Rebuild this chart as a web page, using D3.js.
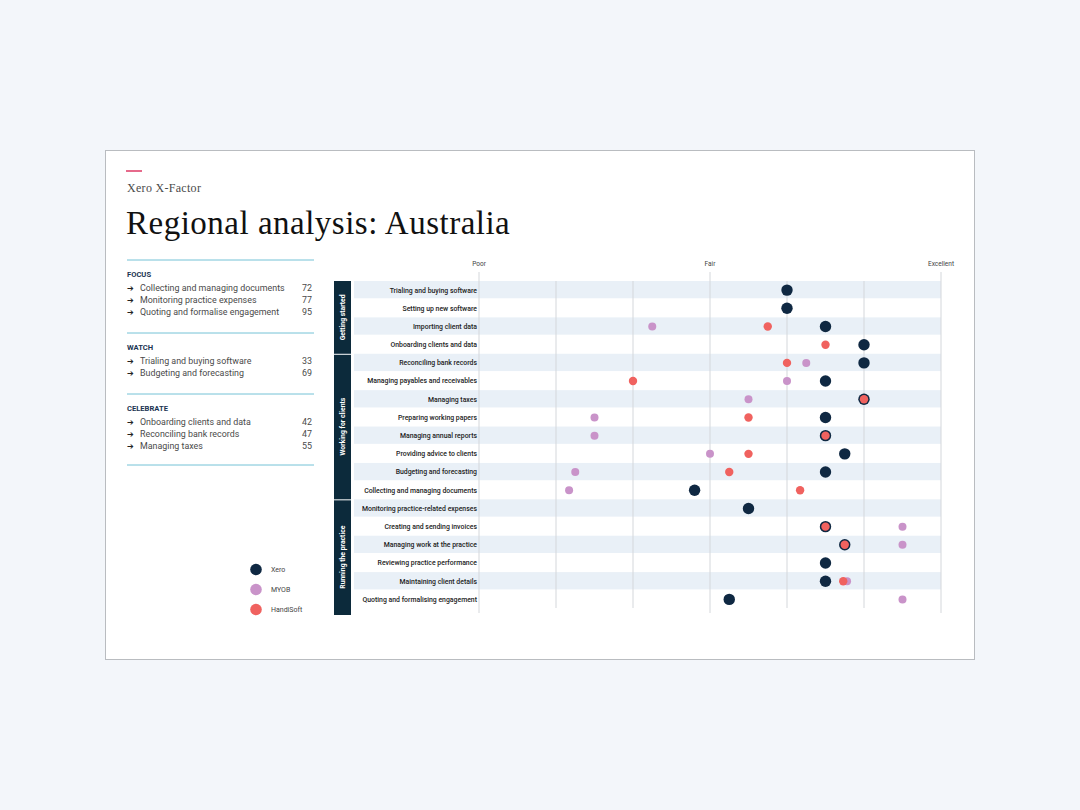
<!DOCTYPE html>
<html>
<head>
<meta charset="utf-8">
<script src="https://cdn.jsdelivr.net/npm/d3@7"></script>
<style>
  html, body { margin: 0; padding: 0; background: #f3f6fa; }
  svg { display: block; }
</style>
</head>
<body>
<svg id="chart" width="1080" height="810"></svg>
<script>
// tasks, top to bottom
const tasks = [
  'Trialing and buying software',
  'Setting up new software',
  'Importing client data',
  'Onboarding clients and data',
  'Reconciling bank records',
  'Managing payables and receivables',
  'Managing taxes',
  'Preparing working papers',
  'Managing annual reports',
  'Providing advice to clients',
  'Budgeting and forecasting',
  'Collecting and managing documents',
  'Monitoring practice-related expenses',
  'Creating and sending invoices',
  'Managing work at the practice',
  'Reviewing practice performance',
  'Maintaining client details',
  'Quoting and formalising engagement'
]

const groups = [
  { name: 'Getting started', from: 0, to: 3 },
  { name: 'Working for clients', from: 4, to: 11 },
  { name: 'Running the practice', from: 12, to: 17 }
]

// ratings on a 0 (Poor) .. 6 (Excellent) scale, null = no dot
const xero = [4, 4, 4.5, 5, 5, 4.5, 5, 4.5, 4.5, 4.75, 4.5, 2.8, 3.5, 4.5, 4.75, 4.5, 4.5, 3.25]
const myob = [null, null, 2.25, null, 4.25, 4, 3.5, 1.5, 1.5, 3, 1.25, 1.17, null, 5.5, 5.5, null, 4.78, 5.5]
const handisoft = [null, null, 3.75, 4.5, 4, 2, 5, 3.5, 4.5, 3.5, 3.25, 4.17, null, 4.5, 4.75, null, 4.73, null]

const gridValues = [0, 1, 2, 3, 4, 5, 6]
const tickValues = [0, 3, 6]
const tickLabels = ['Poor', 'Fair', 'Excellent']

const series = [
  { name: 'Xero', values: xero, color: '#0f2842', r: 5.7 },
  { name: 'MYOB', values: myob, color: '#c993c9', r: 4 },
  { name: 'HandiSoft', values: handisoft, color: '#f0625f', r: 4.2 }
]

// left panel lists
const focusItems = ['Collecting and managing documents', 'Monitoring practice expenses', 'Quoting and formalise engagement']
const focusScores = [72, 77, 95]
const watchItems = ['Trialing and buying software', 'Budgeting and forecasting']
const watchScores = [33, 69]
const celebrateItems = ['Onboarding clients and data', 'Reconciling bank records', 'Managing taxes']
const celebrateScores = [42, 47, 55]

const sans = 'Roboto, "Noto Sans", sans-serif'
const serif = '"Liberation Serif", "DejaVu Serif", serif'

const svg = d3.select('#chart')

// card
svg.append('rect')
  .attr('x', 105.5).attr('y', 150.5)
  .attr('width', 869).attr('height', 509)
  .attr('fill', '#fff')
  .attr('stroke', '#b9bcc0')

// header
svg.append('line')
  .attr('x1', 126).attr('x2', 142)
  .attr('y1', 171).attr('y2', 171)
  .attr('stroke', '#e0456e').attr('stroke-width', 1.6)

svg.append('text')
  .attr('x', 127).attr('y', 192)
  .attr('font-family', serif).attr('font-size', 12)
  .attr('fill', '#4a4a4a')
  .attr('letter-spacing', 0.3)
  .text('Xero X-Factor')

svg.append('text')
  .attr('x', 126).attr('y', 234)
  .attr('font-family', serif).attr('font-size', 33)
  .attr('fill', '#111')
  .attr('letter-spacing', 0.5)
  .text('Regional analysis: Australia')

// left panel
const lists = [
  { head: 'FOCUS', items: focusItems, scores: focusScores, top: 260 },
  { head: 'WATCH', items: watchItems, scores: watchScores, top: 333 },
  { head: 'CELEBRATE', items: celebrateItems, scores: celebrateScores, top: 394 }
]

const rules = [260, 333, 394, 465]
svg.selectAll('line.rule')
  .data(rules)
  .enter()
    .append('line')
    .attr('class', 'rule')
    .attr('x1', 127).attr('x2', 314)
    .attr('y1', d => d).attr('y2', d => d)
    .attr('stroke', '#74c2d6').attr('stroke-width', 1)

lists.forEach(list => {
  const g = svg.append('g')
  g.append('text')
    .attr('x', 127).attr('y', list.top + 16.5)
    .attr('font-family', sans).attr('font-size', 7.6)
    .attr('font-weight', 700)
    .attr('fill', '#1b3452')
    .text(list.head)
  const rows = g.selectAll('g.item')
    .data(list.items)
    .enter()
      .append('g')
      .attr('transform', (d, i) => `translate(0,${list.top + 31 + i * 11.8})`)
  rows.append('text')
    .attr('x', 127)
    .attr('font-family', '"DejaVu Sans", sans-serif').attr('font-size', 8)
    .attr('fill', '#222')
    .text('\u2794')
  rows.append('text')
    .attr('x', 140)
    .attr('font-family', sans).attr('font-size', 8.9)
    .attr('fill', '#4a4a4a')
    .text(d => d)
  rows.append('text')
    .attr('x', 312)
    .attr('text-anchor', 'end')
    .attr('font-family', sans).attr('font-size', 8.9)
    .attr('fill', '#4a4a4a')
    .text((d, i) => list.scores[i])
})

// scales
const x = d3.scaleLinear().domain([0, 6]).range([479, 941])
const y = d3.scaleBand().domain(tasks).range([281, 608.5])

// row bands
svg.selectAll('rect.band')
  .data(tasks.filter((d, i) => i % 2 === 0))
  .enter()
    .append('rect')
    .attr('class', 'band')
    .attr('x', 354)
    .attr('width', x(6) - 354)
    .attr('y', d => y(d))
    .attr('height', y.bandwidth() - 0.9)
    .attr('fill', '#e9f0f7')

// grid lines, labelled ones run longer
svg.selectAll('line.grid')
  .data(gridValues)
  .enter()
    .append('line')
    .attr('class', 'grid')
    .attr('x1', d => x(d)).attr('x2', d => x(d))
    .attr('y1', d => tickValues.includes(d) ? 272 : 281)
    .attr('y2', d => tickValues.includes(d) ? 613 : 608)
    .attr('stroke', '#d4d7db').attr('stroke-width', 1)

svg.selectAll('text.tick')
  .data(tickValues)
  .enter()
    .append('text')
    .attr('class', 'tick')
    .attr('x', d => x(d))
    .attr('y', 266)
    .attr('text-anchor', 'middle')
    .attr('font-family', sans).attr('font-size', 6.5)
    .attr('fill', '#444')
    .text((d, i) => tickLabels[i])

// task labels
svg.selectAll('text.task')
  .data(tasks)
  .enter()
    .append('text')
    .attr('class', 'task')
    .attr('x', 477)
    .attr('y', d => y(d) + y.bandwidth() / 2)
    .attr('dy', '0.35em')
    .attr('text-anchor', 'end')
    .attr('font-family', sans).attr('font-size', 6.9)
    .attr('font-weight', 500)
    .attr('fill', '#222')
    .text(d => d)

// group boxes
const gBox = svg.selectAll('g.group')
  .data(groups)
  .enter()
    .append('g')
    .attr('class', 'group')

gBox.append('rect')
  .attr('x', 334).attr('width', 17)
  .attr('y', d => y(tasks[d.from]) + (d.from ? 1 : 0))
  .attr('height', (d, i) => y(tasks[d.to]) + y.bandwidth() - y(tasks[d.from]) - (d.from ? 1 : 0) + (i === groups.length - 1 ? 6.5 : 0))
  .attr('fill', '#0c2a3b')

gBox.append('text')
  .attr('transform', (d, i) => {
    const top = y(tasks[d.from])
    const bottom = y(tasks[d.to]) + y.bandwidth() + (i === groups.length - 1 ? 6.5 : 0)
    return `translate(${342.5},${(top + bottom) / 2}) rotate(-90)`
  })
  .attr('dy', '0.35em')
  .attr('text-anchor', 'middle')
  .attr('font-family', sans).attr('font-size', 6.8)
  .attr('font-weight', 700)
  .attr('fill', '#fff')
  .text(d => d.name)

// dots: Xero first, HandiSoft last so it sits on top
series.forEach(s => {
  svg.append('g')
    .selectAll('circle')
    .data(tasks.map((t, i) => ({ task: t, v: s.values[i] })).filter(d => d.v !== null))
    .enter()
      .append('circle')
      .attr('cx', d => x(d.v))
      .attr('cy', d => y(d.task) + y.bandwidth() / 2)
      .attr('r', s.r)
      .attr('fill', s.color)
})

// legend
const legend = svg.selectAll('g.legend')
  .data(series)
  .enter()
    .append('g')
    .attr('class', 'legend')
    .attr('transform', (d, i) => `translate(256,${569.5 + i * 20})`)

legend.append('circle')
  .attr('r', 5.8)
  .attr('fill', d => d.color)

legend.append('text')
  .attr('x', 15)
  .attr('dy', '0.35em')
  .attr('font-family', sans).attr('font-size', 7)
  .attr('fill', '#444')
  .text(d => d.name)
</script>
</body>
</html>
